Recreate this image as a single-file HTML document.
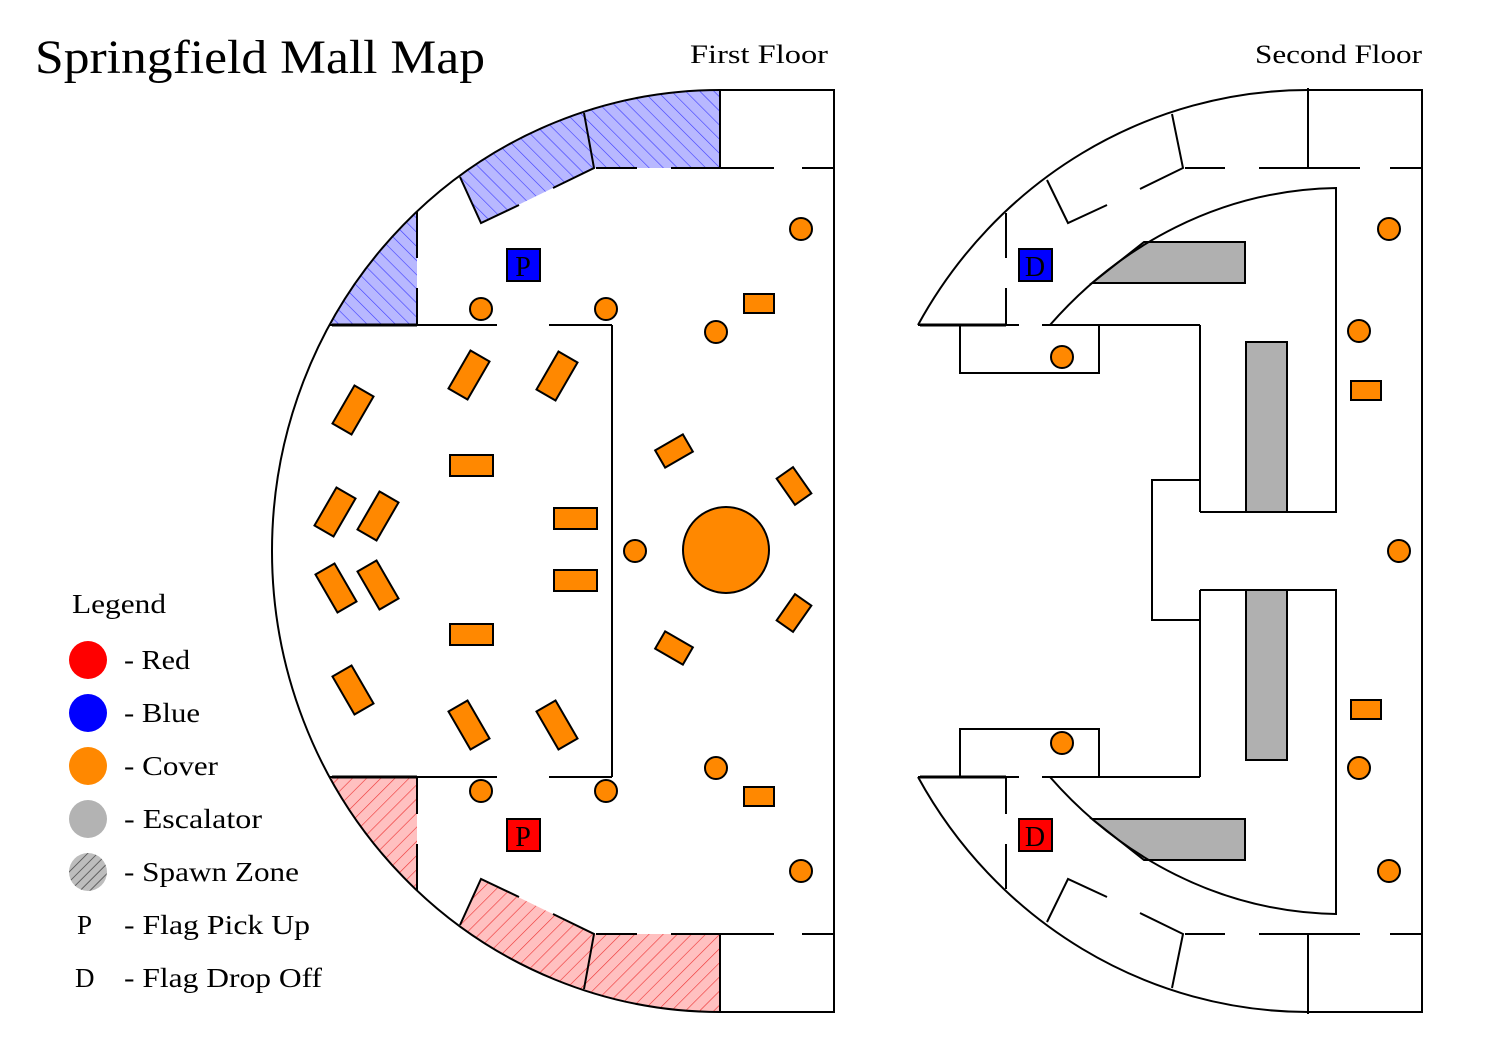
<!DOCTYPE html>
<html><head><meta charset="utf-8"><style>
html,body{margin:0;padding:0;background:#fff;}
svg{display:block;}
text{font-family:"Liberation Serif",serif;fill:#000;}
</style></head><body>
<svg width="1500" height="1050" viewBox="0 0 1500 1050" xmlns="http://www.w3.org/2000/svg">
<defs>
<pattern id="hb" patternUnits="userSpaceOnUse" width="10" height="10" patternTransform="rotate(-45)">
<rect width="10" height="10" fill="#b8b8ff"/><line x1="0" y1="0" x2="0" y2="10" stroke="#3a3aff" stroke-width="1.2"/></pattern>
<pattern id="hr" patternUnits="userSpaceOnUse" width="10" height="10" patternTransform="rotate(-45)">
<rect width="10" height="10" fill="#ffc0c0"/><line x1="0" y1="0" x2="0" y2="10" stroke="#ee3030" stroke-width="1.2"/></pattern>
<pattern id="hg" patternUnits="userSpaceOnUse" width="7" height="7" patternTransform="rotate(45)">
<rect width="7" height="7" fill="#bdbdbd"/><line x1="0" y1="0" x2="0" y2="7" stroke="#444" stroke-width="1.5"/></pattern>
</defs>

<text x="35" y="73" font-size="48" textLength="450" lengthAdjust="spacingAndGlyphs">Springfield Mall Map</text>
<text x="690" y="63" font-size="26" textLength="138" lengthAdjust="spacingAndGlyphs">First Floor</text>
<text x="1255" y="63" font-size="26" textLength="167" lengthAdjust="spacingAndGlyphs">Second Floor</text>

<!-- Legend -->
<text x="72" y="613" font-size="27" textLength="94" lengthAdjust="spacingAndGlyphs">Legend</text>
<circle cx="88" cy="660" r="19" fill="#ff0000"/>
<circle cx="88" cy="713" r="19" fill="#0000ff"/>
<circle cx="88" cy="766" r="19" fill="#ff8800"/>
<circle cx="88" cy="819" r="19" fill="#b3b3b3"/>
<circle cx="88" cy="872" r="19" fill="url(#hg)"/>
<g font-size="27">
<text x="124" y="669" textLength="66" lengthAdjust="spacingAndGlyphs">- Red</text>
<text x="124" y="722" textLength="76" lengthAdjust="spacingAndGlyphs">- Blue</text>
<text x="124" y="775" textLength="94" lengthAdjust="spacingAndGlyphs">- Cover</text>
<text x="124" y="828" textLength="138" lengthAdjust="spacingAndGlyphs">- Escalator</text>
<text x="124" y="881" textLength="175" lengthAdjust="spacingAndGlyphs">- Spawn Zone</text>
<text x="77" y="934">P</text><text x="124" y="934" textLength="186" lengthAdjust="spacingAndGlyphs">- Flag Pick Up</text>
<text x="75" y="987">D</text><text x="124" y="987" textLength="198" lengthAdjust="spacingAndGlyphs">- Flag Drop Off</text>
</g>

<!-- FIRST FLOOR -->
<g fill="none" stroke="#000" stroke-width="2">
<g>
<path d="M584,112 A448 461 0 0 1 720,90 L720,168 L594,168 Z" fill="url(#hb)" stroke="none"/>
<path d="M460,176 A448 461 0 0 1 584,112 L594,168 L481,223 Z" fill="url(#hb)" stroke="none"/>
<path d="M330,325 A448 461 0 0 1 417,211 L417,325 Z" fill="url(#hb)" stroke="none"/>
</g>
<g transform="translate(0,1102) scale(1,-1)">
<path d="M584,112 A448 461 0 0 1 720,90 L720,168 L594,168 Z" fill="url(#hr)" stroke="none"/>
<path d="M460,176 A448 461 0 0 1 584,112 L594,168 L481,223 Z" fill="url(#hr)" stroke="none"/>
<path d="M330,325 A448 461 0 0 1 417,211 L417,325 Z" fill="url(#hr)" stroke="none"/>
</g>
<path d="M720,90 A448 461 0 0 0 720,1012"/>
<path d="M720,90 L834,90 L834,1012 L720,1012"/>
<g id="q1">
<path d="M720,90 L720,168"/>
<path d="M596,168 L637,168 M671,168 L774,168 M802,168 L834,168"/>
<path d="M584,113 L594,168 L553,188 M519,205 L481,223 L460,177"/>
<path d="M417,212 L417,258 M417,288 L417,325"/>
<path d="M330,325 L497,325 M549,325 L612,325"/>
</g>
<use href="#q1" transform="translate(0,1102) scale(1,-1)"/>
<path d="M612,325 L612,777"/>
</g>
<path d="M332,325 L417,325 M332,777 L417,777" stroke="#000" stroke-width="3"/>

<g stroke="#000" stroke-width="2">
<rect x="507" y="249" width="33" height="32" fill="#0000ff"/>
<rect x="507" y="819" width="33" height="32" fill="#ff0000"/>
</g>
<text x="523" y="276" font-size="28" text-anchor="middle">P</text>
<text x="523" y="846" font-size="28" text-anchor="middle">P</text>

<g fill="#ff8800" stroke="#000" stroke-width="2">
<circle cx="481" cy="309" r="11"/><circle cx="606" cy="309" r="11"/>
<circle cx="716" cy="332" r="11"/><circle cx="801" cy="229" r="11"/>
<circle cx="635" cy="551" r="11"/>
<circle cx="716" cy="768" r="11"/><circle cx="801" cy="871" r="11"/>
<circle cx="481" cy="791" r="11"/><circle cx="606" cy="791" r="11"/>
<circle cx="726" cy="550" r="43"/>
<rect x="744" y="294" width="30" height="19"/>
<rect x="744" y="787" width="30" height="19"/>
<rect x="450" y="455" width="43" height="21"/>
<rect x="554" y="508" width="43" height="21"/>
<rect x="554" y="570" width="43" height="21"/>
<rect x="450" y="624" width="43" height="21"/>
<g transform="translate(469,375) rotate(30)"><rect x="-11" y="-22" width="22" height="44"/></g>
<g transform="translate(557,376) rotate(30)"><rect x="-11" y="-22" width="22" height="44"/></g>
<g transform="translate(353,410) rotate(30)"><rect x="-11" y="-22" width="22" height="44"/></g>
<g transform="translate(335,512) rotate(30)"><rect x="-11" y="-22" width="22" height="44"/></g>
<g transform="translate(378,516) rotate(30)"><rect x="-11" y="-22" width="22" height="44"/></g>
<g transform="translate(336,588) rotate(-30)"><rect x="-11" y="-22" width="22" height="44"/></g>
<g transform="translate(378,585) rotate(-30)"><rect x="-11" y="-22" width="22" height="44"/></g>
<g transform="translate(353,690) rotate(-30)"><rect x="-11" y="-22" width="22" height="44"/></g>
<g transform="translate(469,725) rotate(-30)"><rect x="-11" y="-22" width="22" height="44"/></g>
<g transform="translate(557,725) rotate(-30)"><rect x="-11" y="-22" width="22" height="44"/></g>
<g transform="translate(674,451) rotate(-30)"><rect x="-16" y="-10" width="32" height="20"/></g>
<g transform="translate(794,486) rotate(-35)"><rect x="-10" y="-16" width="20" height="32"/></g>
<g transform="translate(794,613) rotate(35)"><rect x="-10" y="-16" width="20" height="32"/></g>
<g transform="translate(674,648) rotate(30)"><rect x="-16" y="-10" width="32" height="20"/></g>
</g>

<!-- SECOND FLOOR -->
<g fill="none" stroke="#000" stroke-width="2">
<path d="M1308,90 L1422,90 L1422,1012 L1308,1012"/>
<path d="M1308,90 A448 461 0 0 0 918,325"/>
<path d="M918,777 A448 461 0 0 0 1308,1012"/>
<g id="q2">
<path d="M1092,283 L1144,242 L1245,242 L1245,283 Z" fill="#b0b0b0"/>
<path d="M1308,88 L1308,168"/>
<path d="M1185,168 L1225,168 M1259,168 L1360,168 M1390,168 L1422,168"/>
<path d="M1172,114 L1183,168 L1140,189 M1107,205 L1068,223 L1047,180"/>
<path d="M1006,213 L1006,258 M1006,288 L1006,325"/>
<path d="M918,325 L1019,325 M1042,325 L1200,325"/>
<path d="M960,325 L960,373 L1099,373 L1099,325"/>
<path d="M1050,325 C1120,245 1220,190 1336,188 L1336,512 L1200,512"/>
<path d="M1200,325 L1200,512"/>
<rect x="1246" y="342" width="41" height="170" fill="#b0b0b0"/>
</g>
<use href="#q2" transform="translate(0,1102) scale(1,-1)"/>
<path d="M1200,480 L1152,480 L1152,620 L1200,620"/>
</g>
<path d="M920,325 L1006,325 M920,777 L1006,777" stroke="#000" stroke-width="3"/>

<g stroke="#000" stroke-width="2">
<rect x="1019" y="249" width="33" height="32" fill="#0000ff"/>
<rect x="1019" y="819" width="33" height="32" fill="#ff0000"/>
</g>
<text x="1035" y="276" font-size="28" text-anchor="middle">D</text>
<text x="1035" y="846" font-size="28" text-anchor="middle">D</text>

<g fill="#ff8800" stroke="#000" stroke-width="2">
<circle cx="1389" cy="229" r="11"/><circle cx="1359" cy="331" r="11"/>
<circle cx="1399" cy="551" r="11"/><circle cx="1359" cy="768" r="11"/>
<circle cx="1389" cy="871" r="11"/><circle cx="1062" cy="357" r="11"/>
<circle cx="1062" cy="743" r="11"/>
<rect x="1351" y="381" width="30" height="19"/>
<rect x="1351" y="700" width="30" height="19"/>
</g>
</svg>
</body></html>
